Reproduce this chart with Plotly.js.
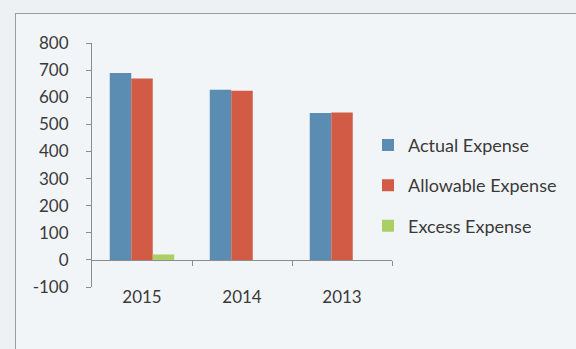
<!DOCTYPE html>
<html>
<head>
<meta charset="utf-8">
<script src="https://cdn.plot.ly/plotly-3.0.1.min.js"></script>
<style>
  html, body { margin: 0; padding: 0; background: #eef1f4; }
  #wrap { position: relative; width: 576px; height: 349px; overflow: hidden; }
  #frame { position: absolute; left: 15px; top: 13px; width: 600px; height: 400px;
           border-left: 1px solid #9a9c9e; border-top: 1px solid #9a9c9e; background: #f2f5f8; }
  #chart { position: absolute; left: 0; top: 0; width: 576px; height: 349px; }
</style>
</head>
<body>
<div id="wrap">
  <div id="frame"></div>
  <div id="chart"></div>
</div>
<script>
// Yearly expense comparison
const years = ['2015', '2014', '2013'];
const actualExpense = [689, 628, 542];
const allowableExpense = [669, 624, 544];
const excessExpense = [20, 0, 0];

const seriesNames = ['Actual Expense', 'Allowable Expense', 'Excess Expense'];
const seriesColors = ['#5b8db2', '#d15b45', '#a9cf65'];
const seriesValues = [actualExpense, allowableExpense, excessExpense];

const yTicks = [-100, 0, 100, 200, 300, 400, 500, 600, 700, 800];

const font = { family: 'Lato, "Open Sans", sans-serif', size: 17, color: '#3a3a3a' };
const legendFont = { family: 'Lato, "Open Sans", sans-serif', size: 18, color: '#3a3a3a' };
const axisGray = '#8a8c8e';

const traces = seriesNames.map((name, i) => ({
  type: 'bar',
  name: name,
  x: years,
  y: seriesValues[i],
  marker: { color: seriesColors[i], line: { width: 0 } },
  legendgroup: 'g' + i,
  hoverinfo: 'x+y+name'
}));

// empty trace that attaches the zero-line axis (xaxis2) to the plot
traces.push({
  type: 'scatter',
  mode: 'markers',
  x: [],
  y: [],
  xaxis: 'x2',
  yaxis: 'y',
  showlegend: false,
  hoverinfo: 'skip'
});

const layout = {
  width: 576,
  height: 349,
  margin: { l: 92, r: 184, t: 43, b: 62 },
  paper_bgcolor: 'rgba(0,0,0,0)',
  plot_bgcolor: 'rgba(0,0,0,0)',
  font: font,
  barmode: 'group',
  bargap: 0.355,
  bargroupgap: 0,
  showlegend: true,
  legend: {
    x: 0.92, xanchor: 'left',
    y: 0.415, yanchor: 'middle',
    traceorder: 'grouped',
    tracegroupgap: 14,
    bgcolor: 'rgba(0,0,0,0)',
    font: legendFont
  },
  xaxis: {
    type: 'category',
    range: [-0.5, 2.5],
    showline: false,
    showgrid: false,
    zeroline: false,
    ticks: '',
    ticklabelstandoff: -2,
    tickfont: font,
    fixedrange: true
  },
  // axis line drawn at y = 0 with tick marks between the year groups
  xaxis2: {
    overlaying: 'x',
    anchor: 'free',
    position: (0 - yTicks[0]) / (yTicks[yTicks.length - 1] - yTicks[0]),
    side: 'bottom',
    range: [-0.5, 2.5],
    tickmode: 'array',
    tickvals: [0.5, 1.5, 2.5],
    ticks: 'outside',
    ticklen: 5,
    tickwidth: 1,
    tickcolor: axisGray,
    showticklabels: false,
    showline: true,
    linecolor: axisGray,
    linewidth: 1,
    showgrid: false,
    zeroline: false,
    fixedrange: true
  },
  yaxis: {
    range: [yTicks[0], yTicks[yTicks.length - 1]],
    tickmode: 'array',
    tickvals: yTicks,
    ticktext: yTicks.map(String),
    ticks: 'outside',
    ticklen: 5,
    tickwidth: 1,
    tickcolor: axisGray,
    showline: true,
    linecolor: axisGray,
    linewidth: 1,
    showgrid: false,
    zeroline: false,
    ticklabelstandoff: 14,
    tickfont: font,
    fixedrange: true
  }
};

Plotly.newPlot('chart', traces, layout, { displayModeBar: false, staticPlot: true });
</script>
</body>
</html>
